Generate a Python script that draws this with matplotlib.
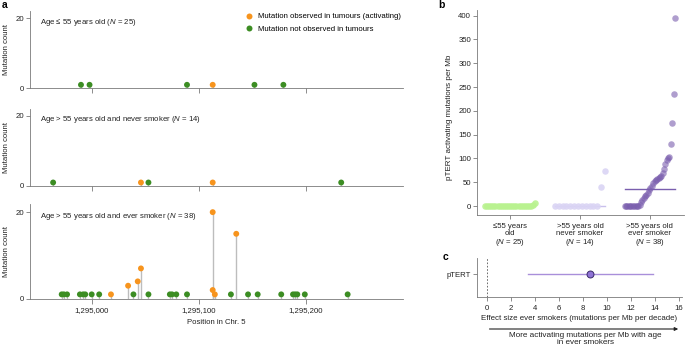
import numpy as np
import matplotlib
matplotlib.use("Agg")
import matplotlib.pyplot as plt
from matplotlib.lines import Line2D

plt.rcParams['font.family'] = ['Liberation Sans', 'DejaVu Sans']
plt.rcParams['mathtext.fontset'] = 'custom'
plt.rcParams['mathtext.rm'] = 'Liberation Sans'
plt.rcParams['mathtext.it'] = 'Liberation Sans:italic'

# ---------------- data ----------------
# panel a : positions (Chr. 5), mutation counts, activating flag
pos_young = [1294990, 1294998, 1295089, 1295113, 1295152, 1295179]
cnt_young = [1, 1, 1, 1, 1, 1]
act_young = [0, 0, 0, 1, 0, 0]

pos_never = [1294964, 1295046, 1295053, 1295113, 1295233]
cnt_never = [1, 1, 1, 1, 1]
act_never = [0, 1, 0, 1, 0]

pos_smoker = [1294972, 1294974, 1294977, 1294989, 1294992, 1294994, 1295000,
              1295007, 1295018, 1295034, 1295039, 1295043, 1295046, 1295053,
              1295073, 1295075, 1295079, 1295089, 1295113, 1295113, 1295115,
              1295130, 1295135, 1295146, 1295155, 1295177, 1295188, 1295190,
              1295192, 1295199, 1295239]
cnt_smoker = [1, 1, 1, 1, 1, 1, 1,
              1, 1, 3, 1, 4, 7, 1,
              1, 1, 1, 1, 20, 2, 1,
              1, 15, 1, 1, 1, 1, 1,
              1, 1, 1]
act_smoker = [0, 0, 0, 0, 0, 0, 0,
              0, 1, 1, 0, 1, 1, 0,
              0, 0, 0, 0, 1, 1, 1,
              0, 1, 0, 0, 0, 0, 0,
              0, 0, 0]

panel_titles = ["Age \u2264 55 years old ($N$ = 25)",
                "Age > 55 years old and never smoker ($N$ = 14)",
                "Age > 55 years old and ever smoker ($N$ = 38)"]
xticks_a = [1295000, 1295100, 1295200]
xticklabels_a = ["1,295,000", "1,295,100", "1,295,200"]

# panel b : pTERT activating mutations per Mb per group
grp_young = [0] * 23 + [2, 6]
grp_never = [0] * 12 + [40, 73]
grp_smoker = [0] * 11 + [3, 8, 13, 17, 20, 23, 27, 33, 38, 42, 48, 52, 54, 56,
                         58, 61, 64, 70, 78, 88, 97, 100, 104, 130, 175, 235, 395]
group_labels = ["\u226455 years\nold\n($N$ = 25)",
                ">55 years old\nnever smoker\n($N$ = 14)",
                ">55 years old\never smoker\n($N$ = 38)"]

# panel c : effect size
effect_label = ["pTERT"]
effect_est = [8.65]
effect_lo = [3.45]
effect_hi = [13.85]

# ---------------- style ----------------
ORANGE = '#F7941D'
GREEN = '#3C8D23'
STEM = '#BDBDBD'
SPINE = '#7a7a7a'
TXT = '#222222'
FS = 5.6
W, H = 685, 346

fig = plt.figure(figsize=(W / 100, H / 100), dpi=100)


def fbox(l, t, r, b):
    return [l / W, 1 - b / H, (r - l) / W, (b - t) / H]


def style(ax, left=True):
    for s in ['top', 'right']:
        ax.spines[s].set_visible(False)
    for s in ['left', 'bottom']:
        ax.spines[s].set_color(SPINE)
        ax.spines[s].set_linewidth(0.6)
    ax.tick_params(colors=SPINE, labelcolor=TXT, labelsize=FS, width=0.6,
                   length=3, pad=1.5)


# ---------------- panel a ----------------
boxes = [fbox(30, 11.3, 403, 88.3), fbox(30, 109, 403, 186), fbox(30, 203.5, 403, 298.7)]
datasets = [(pos_young, cnt_young, act_young),
            (pos_never, cnt_never, act_never),
            (pos_smoker, cnt_smoker, act_smoker)]
axes_a = []
for i, (bx, (p, c, a)) in enumerate(zip(boxes, datasets)):
    ax = fig.add_axes(bx)
    style(ax)
    p = np.array(p); c = np.array(c); a = np.array(a)
    ax.vlines(p, 0, c, color=STEM, lw=1.0, zorder=1)
    cols = np.where(a == 1, ORANGE, GREEN)
    ax.scatter(p, c, c=list(cols), s=18, zorder=3, linewidths=0)
    ax.set_xlim(1294942.4, 1295290.7)
    ax.set_ylim(0, 22)
    ax.set_yticks([0, 20])
    ax.set_xticks(xticks_a)
    ax.tick_params(axis='x', length=3.5, pad=2.5)
    if i == 2:
        ax.set_xticklabels(xticklabels_a)
        ax.set_xlabel("Position in Chr. 5", fontsize=FS, color=TXT, labelpad=3.5)
    else:
        ax.set_xticklabels([])
    ax.set_ylabel("Mutation count", fontsize=FS, color=TXT)
    ax.yaxis.set_label_coords(-20 / 373, 0.5)
    ax.text(0.028, 0.86, panel_titles[i], transform=ax.transAxes, fontsize=FS,
            color=TXT, va='center', ha='left')
    axes_a.append(ax)

handles = [Line2D([], [], marker='o', ls='', color=ORANGE, markersize=4.3, markeredgewidth=0),
           Line2D([], [], marker='o', ls='', color=GREEN, markersize=4.3, markeredgewidth=0)]
axes_a[0].legend(handles, ["Mutation observed in tumours (activating)",
                           "Mutation not observed in tumours"],
                 loc='upper left', bbox_to_anchor=(246.5 / W, 1 - 13 / H),
                 bbox_transform=fig.transFigure, frameon=False, fontsize=FS,
                 handlelength=0.6, handletextpad=0.9, labelspacing=0.6,
                 borderpad=0, borderaxespad=0)

fig.text(2 / W, 1 - 5 / H, "a", fontsize=7.5, fontweight='bold', va='center', ha='left')

# ---------------- panel b ----------------
axb = fig.add_axes(fbox(477.3, 10, 684, 215))
style(axb)
groups = [grp_young, grp_never, grp_smoker]
gcols = ['#B9F290', '#DAD4F4', '#7A5EAE']
galpha = [0.9, 0.9, 0.6]
lcols = ['#B9F290', '#C9C0EC', '#7A5EAE']
half = 0.36
for k, g in enumerate(groups):
    v = np.sort(np.array(g, dtype=float))
    xs = k + np.linspace(-half, half, len(v))
    med = np.median(v)
    axb.plot([k - half, k + half], [med, med], color=lcols[k], lw=1.0, zorder=1)
    axb.scatter(xs, v, s=22, color=gcols[k], alpha=galpha[k], linewidths=0, zorder=2)
axb.set_xlim(-0.47, 2.49)
axb.set_ylim(-18.9, 411.8)
axb.set_yticks(np.arange(0, 401, 50))
axb.set_xticks([0, 1, 2])
axb.set_xticklabels(group_labels, fontsize=FS, linespacing=1.05)
axb.tick_params(axis='x', pad=2.5)
fig.text(449.5 / W, 1 - 117 / H, "pTERT activating mutations per Mb", rotation=90,
         fontsize=5.8, color=TXT, ha='center', va='center')
fig.text(438 / W, 1 - 5 / H, "b", fontsize=7.5, fontweight='bold', va='center', ha='left')

# ---------------- panel c ----------------
axc = fig.add_axes(fbox(476.7, 258, 681.7, 297.3))
style(axc)
axc.axvline(0, color='#555555', lw=0.6, ls=(0, (2, 2)), zorder=1)
for j, lab in enumerate(effect_label):
    axc.plot([effect_lo[j], effect_hi[j]], [j, j], color='#A98FDA', lw=1.0, zorder=2)
    axc.plot([effect_est[j]], [j], marker='o', markersize=5, color='#8F73D6',
             markeredgecolor='#3a2a6a', markeredgewidth=0.7, zorder=3)
axc.set_yticks(range(len(effect_label)))
axc.set_yticklabels(effect_label)
axc.set_ylim(-0.585, 0.415)
axc.set_xlim(-0.83, 16.25)
axc.set_xticks(np.arange(0, 17, 2))
axc.tick_params(axis='x', pad=2.5)
axc.set_xlabel("Effect size ever smokers (mutations per Mb per decade)", fontsize=5.7,
               color=TXT, labelpad=2.5)
fig.text(443 / W, 1 - 257 / H, "c", fontsize=7.5, fontweight='bold', va='center', ha='left')
fig.add_artist(matplotlib.patches.FancyArrowPatch(
    (486.7 / W, 1 - 329 / H), (681 / W, 1 - 329 / H), transform=fig.transFigure,
    arrowstyle='-|>', mutation_scale=5, color='#222222', lw=0.8))
fig.text(585.7 / W, 1 - 339 / H, "More activating mutations per Mb with age\nin ever smokers",
         fontsize=5.9, color=TXT, ha='center', va='center', linespacing=1.0)

fig.savefig("out.png", dpi=100)
